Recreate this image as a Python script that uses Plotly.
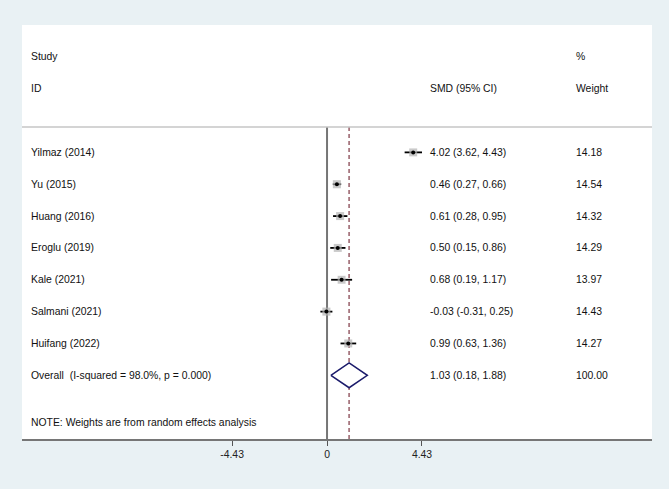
import plotly.graph_objects as go

studies = ["Yilmaz (2014)", "Yu (2015)", "Huang (2016)", "Eroglu (2019)",
           "Kale (2021)", "Salmani (2021)", "Huifang (2022)"]
smd = [4.02, 0.46, 0.61, 0.50, 0.68, -0.03, 0.99]
ci_low = [3.62, 0.27, 0.28, 0.15, 0.19, -0.31, 0.63]
ci_high = [4.43, 0.66, 0.95, 0.86, 1.17, 0.25, 1.36]
weights = [14.18, 14.54, 14.32, 14.29, 13.97, 14.43, 14.27]

overall_label = "Overall\u00a0 (I-squared = 98.0%, p = 0.000)"
overall_smd = 1.03
overall_low = 0.18
overall_high = 1.88
overall_weight = 100.00

tick_vals = [-4.43, 0, 4.43]
tick_text = ["-4.43", "0", "4.43"]
note = "NOTE: Weights are from random effects analysis"

rows = list(range(1, len(studies) + 1))
overall_row = len(studies) + 1

FONT = "Liberation Sans, Arial, sans-serif"
FS = 10.4
BG = "#e9f1f4"

fig = go.Figure()

# CI lines + weight boxes
fig.add_trace(go.Scatter(
    x=smd, y=rows, mode="markers",
    marker=dict(symbol="square", size=[8 * (w / 14.3) ** 0.5 for w in weights],
                color="#b4b4b4", line=dict(width=0)),
    error_x=dict(type="data", symmetric=False,
                 array=[h - e for h, e in zip(ci_high, smd)],
                 arrayminus=[e - l for e, l in zip(smd, ci_low)],
                 color="black", thickness=1.8, width=0),
    hoverinfo="skip", showlegend=False))
fig.add_trace(go.Scatter(
    x=smd, y=rows, mode="markers",
    marker=dict(symbol="circle", size=4, color="black"),
    hoverinfo="skip", showlegend=False))

# overall diamond
half_h = 0.39
fig.add_trace(go.Scatter(
    x=[overall_low, overall_smd, overall_high, overall_smd, overall_low],
    y=[overall_row, overall_row - half_h, overall_row, overall_row + half_h, overall_row],
    mode="lines", line=dict(color="#1b1b6b", width=1.5),
    fill="toself", fillcolor="white",
    hoverinfo="skip", showlegend=False))

sep_row = 0.2
shapes = [
    dict(type="line", xref="paper", yref="y", x0=0, x1=1, y0=sep_row, y1=sep_row,
         line=dict(color="#c6c6c6", width=1.5)),
    dict(type="line", xref="x", yref="y", x0=0, x1=0, y0=sep_row, y1=10,
         line=dict(color="#767676", width=2), layer="below"),
    dict(type="line", xref="x", yref="y", x0=overall_smd, x1=overall_smd, y0=sep_row, y1=10,
         line=dict(color="#a87880", width=1.8, dash="4px,3px"), layer="below"),
]

annotations = []
def txt(x, y, s):
    annotations.append(dict(x=x, y=y, xref="paper", yref="y", text=s, showarrow=False,
                            xanchor="left", yanchor="middle",
                            font=dict(family=FONT, size=FS, color="#111111")))

X_LABEL, X_VAL, X_W = 0.0115, 0.645, 0.876
txt(X_LABEL, -2, "Study")
txt(X_LABEL, -1, "ID")
txt(X_VAL, -1, "SMD (95% CI)")
txt(X_W, -2, "%")
txt(X_W, -1, "Weight")
for r, s, e, l, h, w in zip(rows, studies, smd, ci_low, ci_high, weights):
    txt(X_LABEL, r, s)
    txt(X_VAL, r, f"{e:.2f} ({l:.2f}, {h:.2f})")
    txt(X_W, r, f"{w:.2f}")
txt(X_LABEL, overall_row, overall_label)
txt(X_VAL, overall_row, f"{overall_smd:.2f} ({overall_low:.2f}, {overall_high:.2f})")
txt(X_W, overall_row, f"{overall_weight:.2f}")
txt(X_LABEL, 9.48, note)

fig.update_layout(
    width=669, height=489,
    margin=dict(l=22, r=17, t=25, b=50),
    paper_bgcolor=BG, plot_bgcolor="white",
    shapes=shapes, annotations=annotations,
    showlegend=False,
    xaxis=dict(range=[-14.23, 15.16], showgrid=False, zeroline=False,
               showline=True, linecolor="#767676", linewidth=2,
               ticks="outside", ticklen=5, tickwidth=1, tickcolor="#555555",
               tickvals=tick_vals, ticktext=tick_text,
               tickfont=dict(family=FONT, size=FS, color="#222222")),
    yaxis=dict(range=[10, -3], showgrid=False, zeroline=False, showticklabels=False,
               showline=False, ticks=""),
)

fig.write_html(
    "out.html",
    config={"displayModeBar": False},
    post_script="document.body.style.margin='0';document.body.style.overflow='hidden';"
                "document.body.style.background='" + BG + "';",
)
